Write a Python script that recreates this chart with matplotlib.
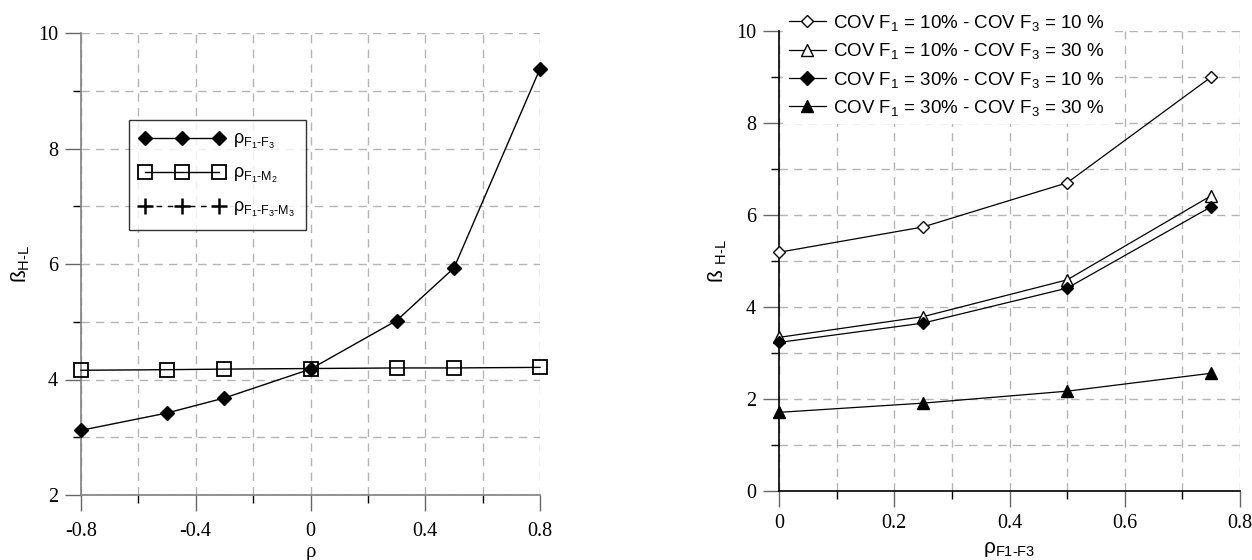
import matplotlib
matplotlib.use("Agg")
import matplotlib.pyplot as plt
from matplotlib.lines import Line2D
from matplotlib.ticker import MultipleLocator

plt.rcParams['mathtext.fontset'] = 'custom'
plt.rcParams['mathtext.rm'] = 'Liberation Sans'
plt.rcParams['mathtext.it'] = 'Liberation Sans:italic'
plt.rcParams['mathtext.bf'] = 'Liberation Sans:bold'

# ---------------- data ----------------
rho_left = [-0.8, -0.5, -0.3, 0.0, 0.3, 0.5, 0.8]
beta_F1F3 = [3.12, 3.42, 3.68, 4.18, 5.02, 5.93, 9.38]
beta_F1M2 = [4.16, 4.17, 4.18, 4.19, 4.20, 4.20, 4.21]
beta_F1F3M3 = []  # appears only in the legend

rho_right = [0.0, 0.25, 0.5, 0.75]
cov_10_10 = [5.19, 5.74, 6.70, 9.00]
cov_10_30 = [3.34, 3.79, 4.59, 6.42]
cov_30_10 = [3.23, 3.65, 4.41, 6.18]
cov_30_30 = [1.71, 1.91, 2.17, 2.56]

left_xticks = [-0.8, -0.4, 0, 0.4, 0.8]
left_xticklabels = ['-0.8', '-0.4', '0', '0.4', '0.8']
right_xticks = [0, 0.2, 0.4, 0.6, 0.8]
right_xticklabels = ['0', '0.2', '0.4', '0.6', '0.8']

left_labels = [r'ρ$_{\mathregular{F_1\text{-}F_3}}$',
               r'ρ$_{\mathregular{F_1\text{-}M_2}}$',
               r'ρ$_{\mathregular{F_1\text{-}F_3\text{-}M_3}}$']
right_labels = [r'COV F$_{\mathregular{1}}$ = 10% - COV F$_{\mathregular{3}}$ = 10 %',
                r'COV F$_{\mathregular{1}}$ = 10% - COV F$_{\mathregular{3}}$ = 30 %',
                r'COV F$_{\mathregular{1}}$ = 30% - COV F$_{\mathregular{3}}$ = 10 %',
                r'COV F$_{\mathregular{1}}$ = 30% - COV F$_{\mathregular{3}}$ = 30 %']

W, H = 1252, 560
fig = plt.figure(figsize=(W / 100, H / 100), dpi=100)

SERIF = 'Liberation Serif'
SANS = 'Liberation Sans'
GRID = dict(color='#b4b4b4', linestyle=(0, (6, 4.5)), linewidth=1.0)


def style_axes(ax, spine_color):
    for s in ['top', 'right']:
        ax.spines[s].set_visible(False)
    for s in ['left', 'bottom']:
        ax.spines[s].set_color(spine_color)
        ax.spines[s].set_linewidth(1.2)
    ax.tick_params(which='major', direction='out', length=11.5, width=1.0,
                   color='#666666', labelsize=14.5, pad=5)
    ax.tick_params(which='minor', direction='out', length=5.5, width=1.0,
                   color='black')
    for lab in ax.get_xticklabels() + ax.get_yticklabels():
        lab.set_fontfamily(SERIF)
    ax.grid(True, which='both', **GRID)
    ax.set_axisbelow(True)


# ---------------- left panel ----------------
axL = fig.add_axes([81 / W, (H - 495) / H, (540 - 81) / W, (495 - 33) / H])
axL.set_xlim(-0.8, 0.8)
axL.set_ylim(2, 10)
axL.xaxis.set_minor_locator(MultipleLocator(0.2))
axL.yaxis.set_major_locator(MultipleLocator(2))
axL.yaxis.set_minor_locator(MultipleLocator(1))
axL.set_xticks(left_xticks)
axL.set_xticklabels(left_xticklabels)
style_axes(axL, '#808080')
axL.tick_params(axis='x', which='major', pad=8)

axL.plot(rho_left, beta_F1M2, color='black', lw=1.0, marker='s', ms=10.5,
         mfc='none', mec='black', mew=1.3, zorder=4, clip_on=False)
axL.plot(rho_left, beta_F1F3, color='black', lw=1.0, marker='D', ms=7.5,
         mfc='black', mec='black', zorder=5, clip_on=False)
axL.plot(beta_F1F3M3, beta_F1F3M3, linestyle='--', marker='+', color='black')

handlesL = [
    Line2D([], [], color='black', lw=1.0, marker='D', ms=7.5, mfc='black', mec='black'),
    Line2D([], [], color='black', lw=1.0, marker='s', ms=10.5, mfc='none', mec='black', mew=1.3),
    Line2D([], [], color='black', lw=1.0, ls=(0, (4, 4)), marker='+', ms=11, mew=1.8),
]
legL = fig.legend(handlesL, left_labels, loc='upper left',
                  bbox_to_anchor=(129 / W, 1 - 120 / H), bbox_transform=fig.transFigure,
                  borderaxespad=0, frameon=True, fancybox=False, numpoints=3,
                  handlelength=4.7, handletextpad=0.45, labelspacing=0.78,
                  borderpad=0.6, prop={'family': SANS, 'size': 13})
legL.get_frame().set_edgecolor('black')
legL.get_frame().set_linewidth(1.0)

axL.set_xlabel('ρ', fontfamily=SERIF, fontsize=15)
axL.xaxis.set_label_coords(0.5, -0.103)
axL.set_ylabel(r'ß$_{\mathregular{H\text{-}L}}$', fontfamily=SANS, fontsize=15)
axL.yaxis.set_label_coords(-0.107, 0.5)

# ---------------- right panel ----------------
axR = fig.add_axes([779 / W, (H - 491) / H, (1240 - 779) / W, (491 - 31) / H])
axR.set_xlim(0, 0.8)
axR.set_ylim(0, 10)
axR.xaxis.set_minor_locator(MultipleLocator(0.1))
axR.yaxis.set_major_locator(MultipleLocator(2))
axR.yaxis.set_minor_locator(MultipleLocator(1))
axR.set_xticks(right_xticks)
axR.set_xticklabels(right_xticklabels)
style_axes(axR, 'black')

lw = 0.9
axR.plot(rho_right, cov_10_10, color='black', lw=lw, marker='D', ms=6,
         mfc='white', mec='black', mew=1.0, zorder=3, clip_on=False)
axR.plot(rho_right, cov_10_30, color='black', lw=lw, marker='^', ms=8,
         mfc='white', mec='black', mew=1.0, zorder=3, clip_on=False)
axR.plot(rho_right, cov_30_10, color='black', lw=lw, marker='D', ms=6,
         mfc='black', mec='black', mew=1.0, zorder=3, clip_on=False)
axR.plot(rho_right, cov_30_30, color='black', lw=lw, marker='^', ms=8,
         mfc='black', mec='black', mew=1.0, zorder=3, clip_on=False)

handlesR = [
    Line2D([], [], color='black', lw=lw, marker='D', ms=6, mfc='white', mec='black'),
    Line2D([], [], color='black', lw=lw, marker='^', ms=9, mfc='white', mec='black'),
    Line2D([], [], color='black', lw=lw, marker='D', ms=7, mfc='black', mec='black'),
    Line2D([], [], color='black', lw=lw, marker='^', ms=9, mfc='black', mec='black'),
]
legR = axR.legend(handlesR, right_labels, loc='upper left',
                  bbox_to_anchor=(783 / W, 1 - 7 / H), bbox_transform=fig.transFigure,
                  borderaxespad=0, frameon=True, fancybox=False, numpoints=1,
                  handlelength=2.0, handletextpad=0.35, labelspacing=0.45,
                  borderpad=0.3, prop={'family': SANS, 'size': 13.5})
legR.get_frame().set_edgecolor('none')
legR.get_frame().set_facecolor('white')
legR.get_frame().set_alpha(1.0)
legR.set_zorder(10)

axR.set_xlabel(r'ρ$_{\mathregular{F1\text{-}F3}}$', fontfamily=SANS, fontsize=15)
axR.xaxis.set_label_coords(0.5, -0.107)
axR.set_ylabel(r'ß $_{\mathregular{H\text{-}L}}$', fontfamily=SANS, fontsize=15)
axR.yaxis.set_label_coords(-0.108, 0.5)

fig.savefig('out.png', dpi=100)
